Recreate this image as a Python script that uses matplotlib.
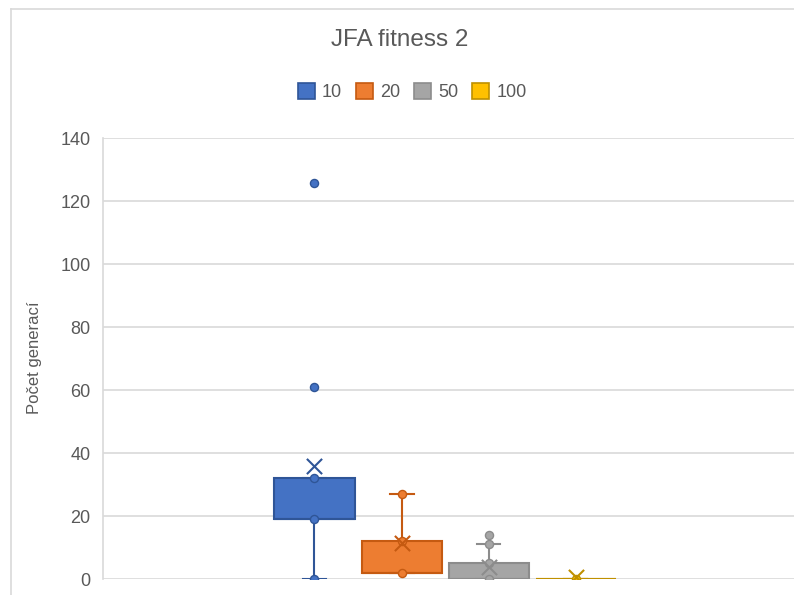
import matplotlib
matplotlib.use('Agg')
import matplotlib.pyplot as plt
from matplotlib.lines import Line2D
from matplotlib.patches import Patch

# population sizes and the box statistics per population
labels = ["10", "20", "50", "100"]
q1 = [19, 2, 0, 0]
median = [19, 2, 0, 0]
q3 = [32, 12, 5, 0]
whisker_lo = [0, 2, 0, 0]
whisker_hi = [32, 27, 11, 0]
means = [36, 11.3, 3.9, 0.6]
inner_points = [[0, 19, 32], [2, 12, 27], [0, 5, 11], [0]]
outliers = [[61, 126], [], [14], []]

fills = ["#4472C4", "#ED7D31", "#A5A5A5", "#FFC000"]
edges = ["#2F5597", "#C55A11", "#8C8C8C", "#BF9000"]
positions = [0.306, 0.433, 0.558, 0.684]
text_col = "#595959"
grid_col = "#D9D9D9"

plt.rcParams['font.family'] = ['Liberation Sans', 'DejaVu Sans']

fig = plt.figure(figsize=(7.94, 5.95), dpi=100)
ax = fig.add_axes([103 / 794, 16 / 595, 1 - 103 / 794, 440.5 / 595])

stats = []
for i in range(len(labels)):
    stats.append(dict(q1=q1[i], med=median[i], q3=q3[i], whislo=whisker_lo[i],
                      whishi=whisker_hi[i], mean=means[i], fliers=[], label=labels[i]))

for i, st in enumerate(stats):
    ax.bxp([st], positions=[positions[i]], widths=0.116, capwidths=0.034,
           showmeans=False, showfliers=False, patch_artist=True,
           boxprops=dict(facecolor=fills[i], edgecolor=edges[i], linewidth=1.5),
           medianprops=dict(color=edges[i], linewidth=1.5),
           whiskerprops=dict(color=edges[i], linewidth=1.5),
           capprops=dict(color=edges[i], linewidth=1.5))
    pts = inner_points[i] + outliers[i]
    ax.scatter([positions[i]] * len(pts), pts, s=34, color=fills[i],
               edgecolor=edges[i], linewidth=1.0, zorder=4)
    ax.scatter([positions[i]], [means[i]], s=120, marker='x', color=edges[i],
               linewidth=1.5, zorder=5)

ax.set_xlim(0, 1)
ax.set_ylim(0, 140)
ax.set_yticks(range(0, 141, 20))
ax.set_xticks([])
ax.yaxis.grid(True, color=grid_col, linewidth=1.2)
ax.set_axisbelow(True)
for side in ['top', 'right', 'bottom']:
    ax.spines[side].set_visible(False)
ax.spines['left'].set_color(grid_col)
ax.spines['left'].set_linewidth(1.2)
ax.tick_params(axis='y', length=0, pad=9, labelsize=13, labelcolor=text_col)

fig.text(35 / 794, 1 - 358 / 595, "Počet generací", rotation=90, ha='center',
         va='center', fontsize=12, color=text_col)
fig.text(400 / 794, 1 - 40 / 595, "JFA fitness 2", ha='center', va='center',
         fontsize=17.5, color=text_col)

handles = [Patch(facecolor=fills[i], edgecolor=edges[i], linewidth=1.2)
           for i in range(len(labels))]
fig.legend(handles, labels, loc='center', bbox_to_anchor=(412 / 794, 1 - 92 / 595),
           ncol=4, frameon=False, fontsize=13, labelcolor=text_col,
           handlelength=0.95, handleheight=0.95, handletextpad=0.4, columnspacing=0.75)

# chart area border
fig.add_artist(Line2D([11 / 794, 1], [1 - 9 / 595, 1 - 9 / 595], color=grid_col,
                      linewidth=1.2, transform=fig.transFigure))
fig.add_artist(Line2D([11 / 794, 11 / 794], [0, 1 - 9 / 595], color=grid_col,
                      linewidth=1.2, transform=fig.transFigure))

fig.savefig("out.png", dpi=100)
